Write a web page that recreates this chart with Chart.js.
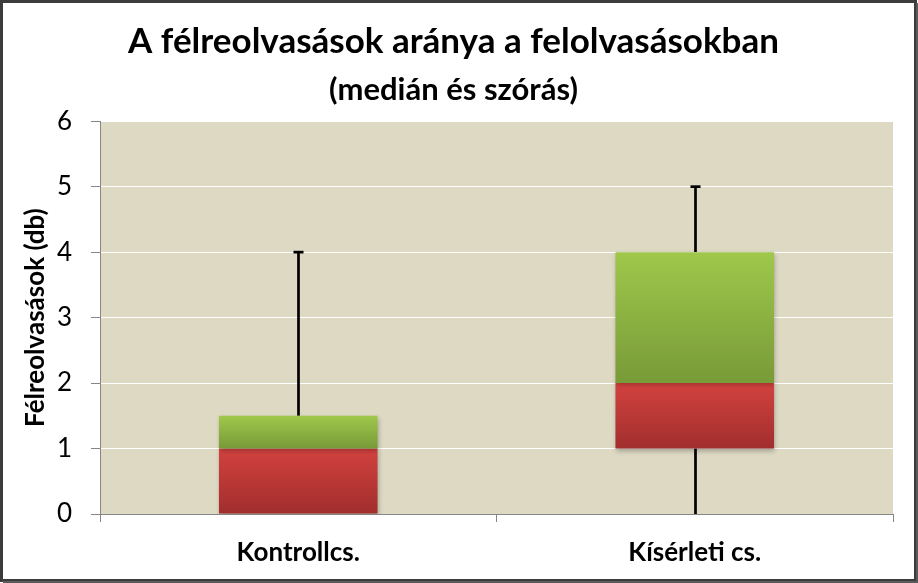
<!DOCTYPE html>
<html>
<head>
<meta charset="utf-8">
<script src="https://cdn.jsdelivr.net/npm/chart.js@4.4.0/dist/chart.umd.min.js"></script>
<style>
  html, body { margin: 0; padding: 0; background: #fff; }
  #wrap { width: 918px; height: 583px; }
</style>
</head>
<body>
<div id="wrap"><canvas id="c" width="918" height="583"></canvas></div>
<script>
const categories = ['Kontrollcs.', 'Kísérleti cs.'];
const minVals = [0, 0];
const q1Vals = [0, 1];
const medianVals = [1, 2];
const q3Vals = [1.5, 4];
const maxVals = [4, 5];
const yTicks = [0, 1, 2, 3, 4, 5, 6];

const FONT = 'Lato, "Open Sans", sans-serif';

function grad(ctx, top, bottom) {
  const chart = ctx.chart;
  const y = chart.scales && chart.scales.y;
  if (!y || !Array.isArray(ctx.raw)) return top;
  const y0 = y.getPixelForValue(Math.max(ctx.raw[0], ctx.raw[1]));
  const y1 = y.getPixelForValue(Math.min(ctx.raw[0], ctx.raw[1]));
  if (!isFinite(y0) || !isFinite(y1) || y0 === y1) return top;
  const g = chart.ctx.createLinearGradient(0, y0, 0, y1);
  g.addColorStop(0, top);
  g.addColorStop(1, bottom);
  return g;
}

const framePlugin = {
  id: 'frame',
  beforeDraw(chart) {
    const c = chart.ctx;
    c.save();
    c.fillStyle = '#ffffff';
    c.fillRect(0, 0, chart.width, chart.height);
    const a = chart.chartArea;
    c.fillStyle = '#DDD9C3';
    c.fillRect(a.left, a.top, a.right - a.left, a.bottom - a.top);
    c.restore();
  },
  afterDraw(chart) {
    const c = chart.ctx;
    c.save();
    c.strokeStyle = '#3c3c3c';
    c.lineWidth = 3;
    c.strokeRect(1.5, 1.5, chart.width - 4, chart.height - 4);
    c.lineWidth = 2;
    c.strokeStyle = '#5a5a5a';
    c.beginPath();
    c.moveTo(chart.width - 1, 3);
    c.lineTo(chart.width - 1, chart.height - 1);
    c.lineTo(3, chart.height - 1);
    c.stroke();
    c.restore();
  }
};

const whiskerPlugin = {
  id: 'whiskers',
  beforeDatasetsDraw(chart) {
    const c = chart.ctx;
    const xs = chart.scales.x, ys = chart.scales.y;
    c.save();
    c.strokeStyle = '#000';
    c.lineWidth = 2.7;
    categories.forEach((cat, i) => {
      const x = Math.round(xs.getPixelForValue(i)) + 0.5;
      const yq3 = ys.getPixelForValue(q3Vals[i]);
      const ymax = ys.getPixelForValue(maxVals[i]);
      c.beginPath();
      c.moveTo(x, yq3);
      c.lineTo(x, ymax);
      c.stroke();
      c.beginPath();
      c.moveTo(x - 5, ymax);
      c.lineTo(x + 5, ymax);
      c.stroke();
      const yq1 = ys.getPixelForValue(q1Vals[i]);
      const ymin = ys.getPixelForValue(minVals[i]);
      if (yq1 !== ymin) {
        c.beginPath();
        c.moveTo(x, yq1);
        c.lineTo(x, ymin);
        c.stroke();
      }
    });
    c.restore();
  },
  beforeDatasetDraw(chart) {
    const c = chart.ctx;
    c.save();
    c.shadowColor = 'rgba(0,0,0,0.28)';
    c.shadowBlur = 5;
    c.shadowOffsetX = 1;
    c.shadowOffsetY = 2;
  },
  afterDatasetDraw(chart) {
    chart.ctx.restore();
  }
};

new Chart(document.getElementById('c'), {
  type: 'bar',
  data: {
    labels: categories,
    datasets: [
      {
        label: 'Q3',
        data: categories.map((_, i) => [medianVals[i], q3Vals[i]]),
        backgroundColor: (ctx) => grad(ctx, '#9FC84B', '#789A38'),
        borderWidth: 0,
        barPercentage: 0.4,
        categoryPercentage: 1.0
      },
      {
        label: 'Q1',
        data: categories.map((_, i) => [q1Vals[i], medianVals[i]]),
        backgroundColor: (ctx) => grad(ctx, '#D2423F', '#A12E2D'),
        borderWidth: 0,
        barPercentage: 0.4,
        categoryPercentage: 1.0
      }
    ]
  },
  options: {
    responsive: false,
    animation: false,
    devicePixelRatio: 1,
    layout: { padding: { left: 14, right: 25, top: 21, bottom: 0 } },
    plugins: {
      legend: { display: false },
      tooltip: { enabled: false },
      title: {
        display: true,
        text: 'A félreolvasások aránya a felolvasásokban',
        color: '#000',
        font: { family: FONT, size: 35, weight: 'bold' },
        padding: { top: 0, bottom: 8 }
      },
      subtitle: {
        display: true,
        text: '(medián és szórás)',
        color: '#000',
        font: { family: FONT, size: 31, weight: 'bold' },
        padding: { top: 0, bottom: 13 }
      }
    },
    scales: {
      x: {
        stacked: true,
        afterFit(scale) { scale.height = 69; },
        grid: {
          offset: true,
          drawOnChartArea: false,
          tickColor: '#868686',
          tickLength: 8
        },
        border: { color: '#868686', width: 1 },
        ticks: {
          color: '#000',
          font: { family: FONT, size: 26, weight: 'bold' },
          padding: 15
        }
      },
      y: {
        stacked: false,
        min: 0,
        max: 6,
        afterFit(scale) { scale.width = 86; },
        afterBuildTicks(scale) {
          scale.ticks = yTicks.map(v => ({ value: v }));
        },
        grid: {
          color: '#ffffff',
          lineWidth: 1,
          tickColor: '#868686',
          tickLength: 9
        },
        border: { color: '#868686', width: 1 },
        ticks: {
          color: '#000',
          font: { family: FONT, size: 26 },
          padding: 19
        },
        title: {
          display: true,
          text: 'Félreolvasások (db)',
          color: '#000',
          font: { family: FONT, size: 26, weight: 'bold' },
          padding: { top: 6, bottom: 0 }
        }
      }
    }
  },
  plugins: [framePlugin, whiskerPlugin]
});
</script>
</body>
</html>
